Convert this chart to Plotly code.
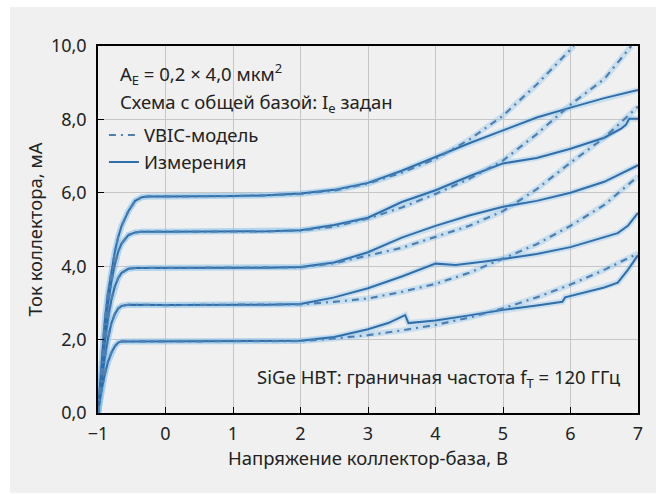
import plotly.graph_objects as go

# ---------------- data ----------------
meas1_x = [-1, -0.95, -0.9, -0.85, -0.8, -0.75, -0.7, -0.65, -0.5, 0, 0.5, 1, 1.5, 2, 2.5, 3, 3.3, 3.55, 3.6, 4, 4.5, 5, 5.5, 5.88, 5.92, 6.2, 6.5, 6.7, 6.85, 7]
meas1_y = [0, 0.6, 1.05, 1.4, 1.65, 1.82, 1.92, 1.95, 1.95, 1.95, 1.95, 1.95, 1.96, 1.97, 2.07, 2.28, 2.45, 2.67, 2.45, 2.52, 2.66, 2.81, 2.93, 3.03, 3.15, 3.28, 3.42, 3.55, 3.9, 4.3]
model1_x = [-1, -0.95, -0.9, -0.85, -0.8, -0.75, -0.7, -0.65, -0.5, 0, 0.5, 1, 1.5, 2, 2.5, 3, 3.5, 4, 4.5, 5, 5.5, 6, 6.5, 7]
model1_y = [0, 0.6, 1.05, 1.4, 1.65, 1.82, 1.92, 1.95, 1.95, 1.95, 1.95, 1.95, 1.95, 1.96, 2.03, 2.12, 2.25, 2.4, 2.6, 2.85, 3.15, 3.5, 3.9, 4.35]

meas2_x = [-1, -0.95, -0.9, -0.85, -0.8, -0.75, -0.7, -0.65, -0.55, 0, 0.5, 1, 1.5, 2, 2.5, 3, 3.5, 4, 4.3, 4.7, 5, 5.5, 6, 6.5, 6.7, 6.85, 7]
meas2_y = [0, 0.8, 1.5, 2.05, 2.45, 2.7, 2.85, 2.92, 2.95, 2.94, 2.94, 2.94, 2.95, 2.97, 3.15, 3.4, 3.72, 4.07, 4.03, 4.12, 4.2, 4.33, 4.52, 4.78, 4.9, 5.1, 5.45]
model2_x = [-1, -0.95, -0.9, -0.85, -0.8, -0.75, -0.7, -0.65, -0.55, 0, 0.5, 1, 1.5, 2, 2.5, 3, 3.5, 4, 4.5, 5, 5.5, 6, 6.5, 7]
model2_y = [0, 0.8, 1.5, 2.05, 2.45, 2.7, 2.85, 2.92, 2.95, 2.94, 2.94, 2.94, 2.95, 2.96, 3.03, 3.12, 3.3, 3.52, 3.82, 4.2, 4.6, 5.1, 5.67, 6.45]

meas3_x = [-1, -0.95, -0.9, -0.85, -0.8, -0.75, -0.7, -0.65, -0.55, -0.45, 0, 0.5, 1, 1.5, 2, 2.5, 3, 3.5, 4, 4.5, 5, 5.5, 6, 6.5, 7]
meas3_y = [0, 1.0, 1.9, 2.6, 3.1, 3.45, 3.68, 3.82, 3.93, 3.95, 3.95, 3.95, 3.95, 3.96, 3.98, 4.1, 4.38, 4.78, 5.1, 5.38, 5.62, 5.78, 6.0, 6.3, 6.75]
model3_x = [-1, -0.95, -0.9, -0.85, -0.8, -0.75, -0.7, -0.65, -0.55, -0.45, 0, 0.5, 1, 1.5, 2, 2.5, 3, 3.5, 4, 4.5, 5, 5.5, 6, 6.5, 7]
model3_y = [0, 1.0, 1.9, 2.6, 3.1, 3.45, 3.68, 3.82, 3.93, 3.95, 3.95, 3.95, 3.95, 3.96, 3.97, 4.08, 4.28, 4.5, 4.8, 5.1, 5.5, 6.1, 6.82, 7.5, 8.35]

meas4_x = [-1, -0.95, -0.9, -0.85, -0.8, -0.75, -0.7, -0.65, -0.55, -0.45, -0.35, 0, 0.5, 1, 1.5, 2, 2.5, 3, 3.5, 4, 4.5, 5, 5.5, 6, 6.5, 6.75, 6.82, 6.87, 7]
meas4_y = [0, 1.15, 2.2, 3.0, 3.6, 4.05, 4.4, 4.62, 4.85, 4.92, 4.94, 4.94, 4.94, 4.94, 4.95, 4.98, 5.12, 5.32, 5.75, 6.07, 6.45, 6.8, 6.95, 7.2, 7.5, 7.75, 7.85, 8.02, 8.02]
model4_x = [-1, -0.95, -0.9, -0.85, -0.8, -0.75, -0.7, -0.65, -0.55, -0.45, -0.35, 0, 0.5, 1, 1.5, 2, 2.5, 3, 3.5, 4, 4.5, 5, 5.5, 6, 6.5, 6.9]
model4_y = [0, 1.15, 2.2, 3.0, 3.6, 4.05, 4.4, 4.62, 4.85, 4.92, 4.94, 4.94, 4.94, 4.94, 4.95, 4.97, 5.08, 5.3, 5.6, 5.97, 6.38, 6.88, 7.6, 8.4, 9.1, 10.0]

meas5_x = [-1, -0.95, -0.9, -0.85, -0.8, -0.75, -0.7, -0.65, -0.55, -0.45, -0.35, -0.25, 0, 0.5, 1, 1.5, 2, 2.5, 3, 3.5, 4, 4.5, 5, 5.5, 6, 6.5, 7]
meas5_y = [0, 1.3, 2.5, 3.3, 3.9, 4.4, 4.8, 5.1, 5.5, 5.78, 5.88, 5.9, 5.9, 5.9, 5.91, 5.93, 5.98, 6.08, 6.27, 6.6, 6.98, 7.35, 7.7, 8.05, 8.32, 8.58, 8.8]
model5_x = [-1, -0.95, -0.9, -0.85, -0.8, -0.75, -0.7, -0.65, -0.55, -0.45, -0.35, -0.25, 0, 0.5, 1, 1.5, 2, 2.5, 3, 3.5, 4, 4.5, 5, 5.5, 6.05]
model5_y = [0, 1.3, 2.5, 3.3, 3.9, 4.4, 4.8, 5.1, 5.5, 5.78, 5.88, 5.9, 5.9, 5.9, 5.91, 5.93, 5.97, 6.06, 6.25, 6.55, 6.92, 7.45, 8.1, 8.95, 10.0]

x_tick_vals = [-1, 0, 1, 2, 3, 4, 5, 6, 7]
x_tick_text = ["\u22121", "0", "1", "2", "3", "4", "5", "6", "7"]
y_tick_vals = [0, 2, 4, 6, 8, 10]
y_tick_text = ["0,0", "2,0", "4,0", "6,0", "8,0", "10,0"]

legend_model = "VBIC-модель"
legend_meas = "Измерения"
x_title = "Напряжение коллектор-база, В"
y_title = "Ток коллектора, мА"
note1 = "A<sub>E</sub> = 0,2 × 4,0 мкм<sup>2</sup>"
note2 = "Схема с общей базой: I<sub>e</sub> задан"
note3 = "SiGe HBT: граничная частота f<sub>T</sub> = 120 ГГц"

# ---------------- figure ----------------
FONT = "Noto Sans"
FS = 18.5
TXT = "#222222"
BG = "#f0f0f0"
MEAS_C = "#2f6eaa"
MODEL_C = "#4d7fb3"
HALO_C = "rgba(140,195,235,0.38)"

meas = [(meas1_x, meas1_y), (meas2_x, meas2_y), (meas3_x, meas3_y), (meas4_x, meas4_y), (meas5_x, meas5_y)]
models = [(model1_x, model1_y), (model2_x, model2_y), (model3_x, model3_y), (model4_x, model4_y), (model5_x, model5_y)]

fig = go.Figure()
for xs, ys in meas + models:
    fig.add_trace(go.Scatter(x=xs, y=ys, mode="lines", line=dict(color=HALO_C, width=6),
                             showlegend=False, hoverinfo="skip"))
for i, (xs, ys) in enumerate(meas):
    fig.add_trace(go.Scatter(x=xs, y=ys, mode="lines", line=dict(color=MEAS_C, width=2),
                             name=legend_meas, showlegend=(i == 0), legendrank=2))
for i, (xs, ys) in enumerate(models):
    fig.add_trace(go.Scatter(x=xs, y=ys, mode="lines",
                             line=dict(color=MODEL_C, width=2.2, dash="7px,5px,2px,5px"),
                             name=legend_model, showlegend=(i == 0), legendrank=1))

fig.update_layout(
    width=657, height=494,
    margin=dict(l=98, r=19, t=46, b=81),
    paper_bgcolor="white",
    plot_bgcolor=BG,
    font=dict(family=FONT, size=FS, color=TXT),
    showlegend=True,
    legend=dict(x=0.011, y=0.808, xanchor="left", yanchor="top", bgcolor="rgba(0,0,0,0)",
                font=dict(size=FS, color=TXT), itemwidth=30, tracegroupgap=0),
    shapes=[dict(type="rect", xref="paper", yref="paper", x0=-0.163, x1=1.0333, y0=-0.218, y1=1.106,
                 fillcolor=BG, line=dict(width=0), layer="below")],
    annotations=[
        dict(text=note1, x=0.037, y=0.924, xref="paper", yref="paper", xanchor="left", yanchor="middle",
             showarrow=False, font=dict(size=FS, color=TXT)),
        dict(text=note2, x=0.037, y=0.846, xref="paper", yref="paper", xanchor="left", yanchor="middle",
             showarrow=False, font=dict(size=FS, color=TXT)),
        dict(text=note3, x=0.973, y=0.095, xref="paper", yref="paper", xanchor="right", yanchor="middle",
             showarrow=False, font=dict(size=FS, color=TXT)),
    ],
)
fig.update_xaxes(range=[-1, 7], tickvals=x_tick_vals, ticktext=x_tick_text,
                 ticks="inside", ticklen=6, tickcolor="black", showline=True, linecolor="black",
                 linewidth=1.5, mirror=True, showgrid=True, gridcolor="#c6c6c6", gridwidth=1,
                 zeroline=False, ticklabelstandoff=4,
                 title=dict(text=x_title, standoff=8, font=dict(size=FS)), tickfont=dict(size=18))
fig.update_yaxes(range=[0, 10], tickvals=y_tick_vals, ticktext=y_tick_text,
                 ticks="inside", ticklen=6, tickcolor="black", showline=True, linecolor="black",
                 linewidth=1.5, mirror=True, showgrid=True, gridcolor="#c6c6c6", gridwidth=1,
                 zeroline=False, ticklabelstandoff=6,
                 title=dict(text=y_title, standoff=3, font=dict(size=FS)), tickfont=dict(size=18))

fig.write_html("out.html")
